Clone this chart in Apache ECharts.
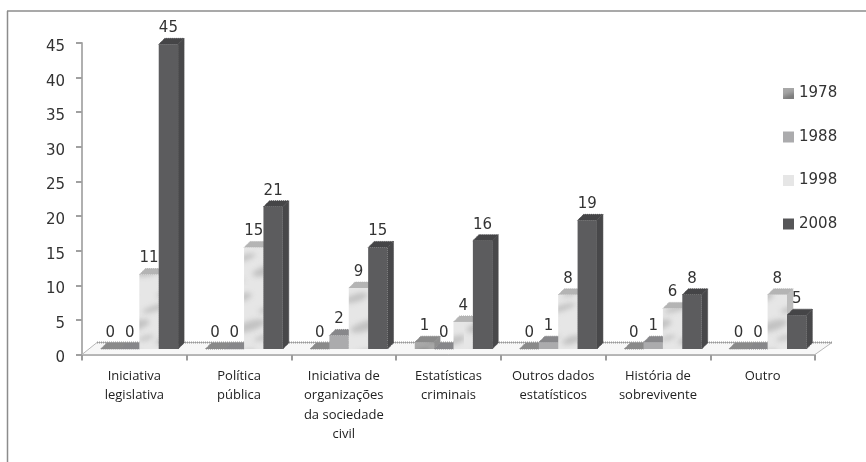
<!DOCTYPE html>
<html>
<head>
<meta charset="utf-8">
<style>
  html, body { margin: 0; padding: 0; background: #fff; }
  #coolgraph { width: 866px; height: 462px; filter: blur(0.4px); }
</style>
<script src="https://cdn.jsdelivr.net/npm/echarts@6/dist/echarts.min.js"></script>
</head>
<body>
<div id="coolgraph"></div>
<script>
var categories = [
  'Iniciativa\nlegislativa',
  'Política\npública',
  'Iniciativa de\norganizações\nda sociedade\ncivil',
  'Estatísticas\ncriminais',
  'Outros dados\nestatísticos',
  'História de\nsobrevivente',
  'Outro'
];
var years = ['1978', '1988', '1998', '2008'];
var values1978 = [0, 0, 0, 1, 0, 0, 0];
var values1988 = [0, 0, 2, 0, 1, 1, 0];
var values1998 = [11, 15, 9, 4, 8, 6, 8];
var values2008 = [45, 21, 15, 16, 19, 8, 5];
var yTicks = { min: 0, max: 45, interval: 5 };

// fake 3d settings, px
var DEPTH = 6;
var LIFT = 5.5;
var SHIFT = 5;
var BAR_SHARE = 0.185;
var HEIGHT_SCALE = 0.978;

// cloudy fill for the light bars, the blots are hand placed
function cloudy(base, blot) {
  var c = document.createElement('canvas');
  c.width = 58;
  c.height = 96;
  var ctx = c.getContext('2d');
  ctx.fillStyle = base;
  ctx.fillRect(0, 0, 58, 96);
  ctx.filter = 'blur(2.5px)';
  ctx.fillStyle = blot;
  var blots = [[8, 10, 12, 4], [40, 20, 14, 3], [18, 38, 16, 5], [50, 52, 10, 4], [12, 66, 12, 3], [36, 78, 16, 5], [4, 90, 8, 3], [30, 50, 8, 2], [48, 6, 8, 2]];
  for (let i = 0; i < blots.length; i++) {
    ctx.beginPath();
    ctx.ellipse(blots[i][0], blots[i][1], blots[i][2], blots[i][3], -0.3, 0, Math.PI * 2);
    ctx.fill();
  }
  return { image: c, repeat: 'repeat' };
}

var tex1978 = cloudy('#a8a8a8', '#777777');
var tex1998 = cloudy('#e6e6e6', '#c2c2c2');

var colors = [
  { front: tex1978, top: '#8a8a8a', side: '#8e8e8e', legend: tex1978 },
  { front: '#ababad', top: '#87878a', side: '#8e8e90', legend: '#ababad' },
  { front: tex1998, top: '#b4b4b4', side: '#bdbdbd', legend: '#e6e6e6' },
  { front: '#5c5c5e', top: '#454547', side: '#48484a', legend: '#565658' }
];

function makeBars(seriesIndex) {
  return function (params, api) {
    var band = api.size([1, 0])[0];
    var w = band * BAR_SHARE;
    var base = api.coord([api.value(0), 0]);
    var point = api.coord([api.value(0), api.value(1)]);
    var left = base[0] + SHIFT + (seriesIndex - 2) * w;
    var bottom = base[1] - LIFT;
    var top = bottom - (base[1] - point[1]) * HEIGHT_SCALE;
    var right = left + w;
    var c = colors[seriesIndex];
    return {
      type: 'group',
      children: [
        {
          type: 'polygon',
          shape: { points: [[right, bottom], [right + DEPTH, bottom - DEPTH], [right + DEPTH, top - DEPTH], [right, top]] },
          style: { fill: c.side, stroke: c.side, lineWidth: 1, lineDash: [1, 1] }
        },
        {
          type: 'polygon',
          shape: { points: [[left, top], [left + DEPTH, top - DEPTH], [right + DEPTH, top - DEPTH], [right, top]] },
          style: { fill: c.top, stroke: c.top, lineWidth: 1, lineDash: [1, 1] }
        },
        {
          type: 'rect',
          shape: { x: left, y: top, width: w, height: bottom - top },
          style: { fill: c.front }
        },
        {
          type: 'text',
          z2: 50,
          style: {
            x: left + w / 2,
            y: top - DEPTH - 10,
            text: String(api.value(1)),
            fill: '#333',
            font: '15px "DejaVu Sans"',
            align: 'center',
            verticalAlign: 'middle'
          }
        }
      ]
    };
  };
}

function makeFloor(params) {
  var g = params.coordSys;
  var bottom = g.y + g.height;
  var x0 = g.x;
  var x1 = g.x + g.width;
  var backY = bottom - 12;
  return {
    type: 'group',
    children: [
      {
        type: 'polygon',
        shape: { points: [[x0, bottom], [x0 + 15, backY], [x1 + 17, backY], [x1, bottom]] },
        style: { fill: '#f7f7f7', stroke: '#b8b8b8', lineWidth: 1 }
      },
      {
        type: 'line',
        shape: { x1: x0 + 15, y1: backY, x2: x1 + 17, y2: backY },
        style: { stroke: '#9a9a9a', lineWidth: 2, lineDash: [1, 1] }
      }
    ]
  };
}

function pairs(list) {
  return list.map(function (v, i) { return [i, v]; });
}

var allValues = [values1978, values1988, values1998, values2008];
var seriesList = [
  { type: 'custom', name: 'floor', silent: true, clip: false, data: [[0, 0]], encode: { x: 0, y: 1 }, renderItem: makeFloor, z: 1 }
];
for (let i = 0; i < years.length; i++) {
  seriesList.push({
    type: 'custom',
    name: years[i],
    clip: false,
    z: 2 + i,
    data: pairs(allValues[i]),
    encode: { x: 0, y: 1 },
    itemStyle: { color: colors[i].legend },
    renderItem: makeBars(i)
  });
}

var myChart = echarts.init(document.getElementById('coolgraph'));
var option = {
  animation: false,
  backgroundColor: '#fff',
  textStyle: { fontFamily: '"DejaVu Sans"' },
  grid: { left: 82, right: 51, top: 43, bottom: 107.5 },
  legend: {
    orient: 'vertical',
    left: 778,
    top: 81,
    itemWidth: 11,
    itemHeight: 11,
    itemGap: 28.5,
    selectedMode: false,
    icon: 'rect',
    data: years,
    textStyle: { color: '#333', fontSize: 15, fontFamily: '"DejaVu Sans"' }
  },
  xAxis: {
    type: 'category',
    data: categories,
    axisLine: { lineStyle: { color: '#b4b4b4', width: 2 } },
    axisTick: { show: true, length: 6, lineStyle: { color: '#9c9c9c', width: 2 } },
    axisLabel: {
      interval: 0,
      margin: 12,
      color: '#222',
      fontSize: 13,
      lineHeight: 19.5,
      fontFamily: '"Open Sans"'
    }
  },
  yAxis: {
    type: 'value',
    min: yTicks.min,
    max: yTicks.max,
    interval: yTicks.interval,
    splitLine: { show: false },
    axisLine: { show: true, lineStyle: { color: '#b0b0b0', width: 2 } },
    axisTick: { show: true, length: 6, lineStyle: { color: '#a0a0a0', width: 2 } },
    // nudges the numbers down a little from their ticks, like the reference
    axisLabel: { margin: 17, color: '#333', fontSize: 15, fontFamily: '"DejaVu Sans"', verticalAlign: 'top', lineHeight: 8 }
  },
  graphic: [
    { type: 'line', silent: true, shape: { x1: 7, y1: 11, x2: 866, y2: 11 }, style: { stroke: '#8c8c8c', lineWidth: 1.5 } },
    { type: 'line', silent: true, shape: { x1: 7.5, y1: 11, x2: 7.5, y2: 462 }, style: { stroke: '#8c8c8c', lineWidth: 1.5 } }
  ],
  series: seriesList
};
option && myChart.setOption(option);
</script>
</body>
</html>
